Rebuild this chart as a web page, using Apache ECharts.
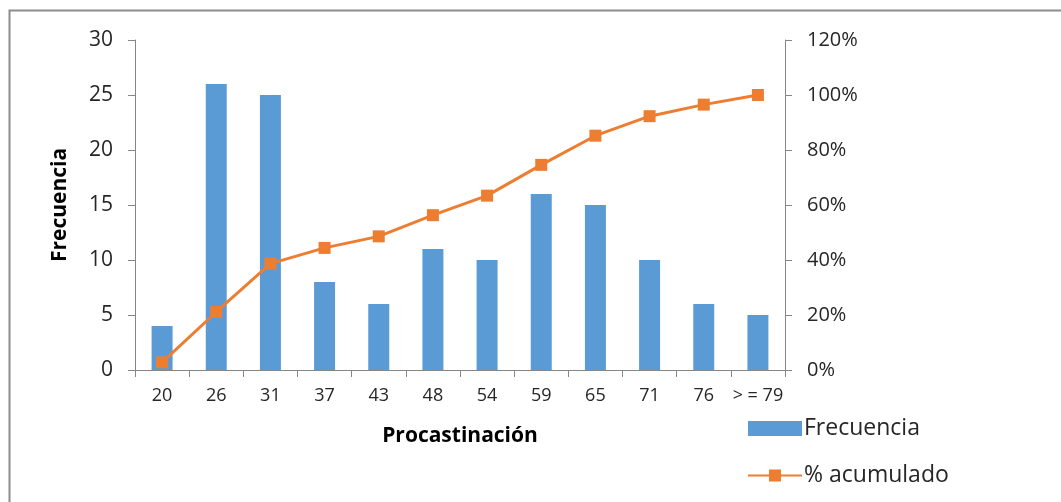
<!DOCTYPE html>
<html>
<head>
<meta charset="utf-8">
<script src="https://cdn.jsdelivr.net/npm/echarts@6/dist/echarts.min.js"></script>
<style>
  html, body { margin: 0; padding: 0; background: #ffffff; }
  #chart { width: 1061px; height: 502px; }
</style>
</head>
<body>
<div id="chart"></div>
<script>
// Procrastination score classes
const categories = ['20', '26', '31', '37', '43', '48', '54', '59', '65', '71', '76', '> = 79'];
// Frequency per class
const frecuencia = [4, 26, 25, 8, 6, 11, 10, 16, 15, 10, 6, 5];
// Cumulative percentage per class
const acumulado = [2.8, 21.1, 38.7, 44.4, 48.6, 56.3, 63.4, 74.6, 85.2, 92.3, 96.5, 100];

const FONT = '"Open Sans", Lato, sans-serif';
const TEXT = '#262626';
const AXIS = '#868686';

const chart = echarts.init(document.getElementById('chart'), null, { renderer: 'canvas' });

chart.setOption({
  backgroundColor: '#ffffff',
  animation: false,
  textStyle: { fontFamily: FONT },
  graphic: [{
    type: 'rect',
    shape: { x: 9.5, y: 10.5, width: 1100, height: 600 },
    style: { fill: 'none', stroke: '#8c8c8c', lineWidth: 2 },
    silent: true
  }],
  grid: { left: 135, right: 276, top: 40, bottom: 132 },
  legend: {
    orient: 'vertical',
    left: 742,
    top: 412,
    itemWidth: 54,
    itemHeight: 15,
    itemGap: 24,
    textStyle: { fontFamily: FONT, fontSize: 23, color: TEXT, padding: [0, 0, 0, -3] },
    data: [
      { name: 'Frecuencia', icon: 'rect' },
      { name: '% acumulado' }
    ]
  },
  xAxis: {
    type: 'category',
    data: categories,
    name: 'Procastinación',
    nameLocation: 'middle',
    nameGap: 56,
    nameTextStyle: { fontFamily: FONT, fontSize: 21, fontWeight: 'bold', color: '#000000' },
    axisLine: { lineStyle: { color: AXIS, width: 1 } },
    axisTick: { show: true, length: 7, lineStyle: { color: AXIS } },
    axisLabel: { fontFamily: FONT, fontSize: 18, color: TEXT, margin: 17, interval: 0 }
  },
  yAxis: [{
    type: 'value',
    min: 0, max: 30, interval: 5,
    name: 'Frecuencia',
    nameLocation: 'middle',
    nameRotate: 90,
    nameGap: 64,
    nameTextStyle: { fontFamily: FONT, fontSize: 21, fontWeight: 'bold', color: '#000000' },
    axisLine: { show: true, lineStyle: { color: AXIS, width: 1 } },
    axisTick: { show: true, length: 7, lineStyle: { color: AXIS } },
    splitLine: { show: false },
    axisLabel: { fontFamily: FONT, fontSize: 21, color: TEXT, margin: 22 }
  }, {
    type: 'value',
    min: 0, max: 120, interval: 20,
    position: 'right',
    axisLine: { show: true, lineStyle: { color: AXIS, width: 1 } },
    axisTick: { show: true, length: 7, lineStyle: { color: AXIS } },
    splitLine: { show: false },
    axisLabel: { fontFamily: FONT, fontSize: 20, color: TEXT, margin: 22, formatter: '{value}%' }
  }],
  series: [{
    name: 'Frecuencia',
    type: 'bar',
    data: frecuencia,
    barWidth: 21,
    itemStyle: { color: '#5B9BD5' }
  }, {
    name: '% acumulado',
    type: 'line',
    yAxisIndex: 1,
    data: acumulado,
    symbol: 'rect',
    symbolSize: 12,
    lineStyle: { color: '#ED7D31', width: 3 },
    itemStyle: { color: '#ED7D31' }
  }]
});
</script>
</body>
</html>
